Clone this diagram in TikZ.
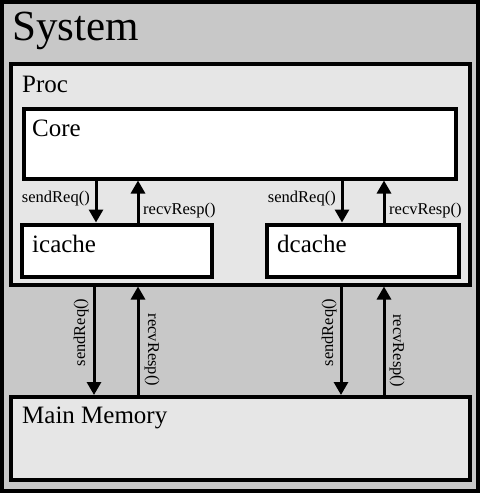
\documentclass[tikz,border=0pt]{standalone}
\usepackage{fontspec}
\setmainfont{Liberation Serif}
\usetikzlibrary{arrows.meta}
\definecolor{sysgray}{RGB}{200,200,200}
\definecolor{procgray}{RGB}{230,230,230}
\begin{document}
\begin{tikzpicture}[x=1pt,y=-1pt,
  box/.style={draw=black, line width=4pt, anchor=north west, inner sep=0pt, outer sep=0pt},
  title/.style={anchor=base west, inner sep=0pt, font=\fontsize{25}{30}\selectfont},
  msg/.style={inner sep=0pt, font=\fontsize{16.5}{20}\selectfont},
  arr/.style={line width=3pt, -{Triangle[length=13pt,width=14pt]}, shorten >=2pt, shorten <=2pt},
]
\useasboundingbox (0,0) rectangle (480,493);
% boxes
\node[box, fill=sysgray, minimum width=476pt, minimum height=489pt] (system) at (2,2) {};
\node[box, fill=procgray, minimum width=459.5pt, minimum height=220.5pt] (proc) at (10.5,64) {};
\node[box, fill=white, minimum width=432pt, minimum height=69.5pt] (core) at (24,109) {};
\node[box, fill=white, minimum width=190pt, minimum height=52.5pt] (icache) at (22,224.5) {};
\node[box, fill=white, minimum width=192pt, minimum height=52.5pt] (dcache) at (267,224.5) {};
\node[box, fill=procgray, minimum width=459pt, minimum height=83pt] (mem) at (11,397) {};
% titles
\node[title, font=\fontsize{43}{50}\selectfont] (tsys) at (12,40) {System};
\node[title] (tproc) at (22,92) {Proc};
\node[title] (tcore) at (32,136.5) {Core};
\node[title] (tic) at (32,252) {icache};
\node[title] (tdc) at (277,252) {dcache};
\node[title] (tmem) at (22,423) {Main Memory};
% arrow x positions
\coordinate (xA) at (96,0);
\coordinate (xB) at (138,0);
\coordinate (xC) at (342,0);
\coordinate (xD) at (384,0);
\coordinate (xE) at (94,0);
\coordinate (xF) at (138,0);
\coordinate (xG) at (341,0);
\coordinate (xH) at (384,0);
% arrows core <-> caches
\draw[arr] (core.south -| xA) -- (icache.north -| xA);
\draw[arr] (icache.north -| xB) -- (core.south -| xB);
\draw[arr] (core.south -| xC) -- (dcache.north -| xC);
\draw[arr] (dcache.north -| xD) -- (core.south -| xD);
% arrows proc <-> memory
\draw[arr] (proc.south -| xE) -- (mem.north -| xE);
\draw[arr] (mem.north -| xF) -- (proc.south -| xF);
\draw[arr] (proc.south -| xG) -- (mem.north -| xG);
\draw[arr] (mem.north -| xH) -- (proc.south -| xH);
% labels
\node[msg, anchor=base east] (l1) at (90,202) {sendReq()};
\node[msg, anchor=base west] (l2) at (143,214) {recvResp()};
\node[msg, anchor=base east] (l3) at (336,202) {sendReq()};
\node[msg, anchor=base west] (l4) at (389,214) {recvResp()};
\node[msg, anchor=base, rotate=90] (l5) at (85,332.5) {sendReq()};
\node[msg, anchor=base, rotate=-90] (l6) at (148,350) {recvResp()};
\node[msg, anchor=base, rotate=90] (l7) at (333,332.5) {sendReq()};
\node[msg, anchor=base, rotate=-90] (l8) at (393,350.5) {recvResp()};
\end{tikzpicture}
\end{document}
